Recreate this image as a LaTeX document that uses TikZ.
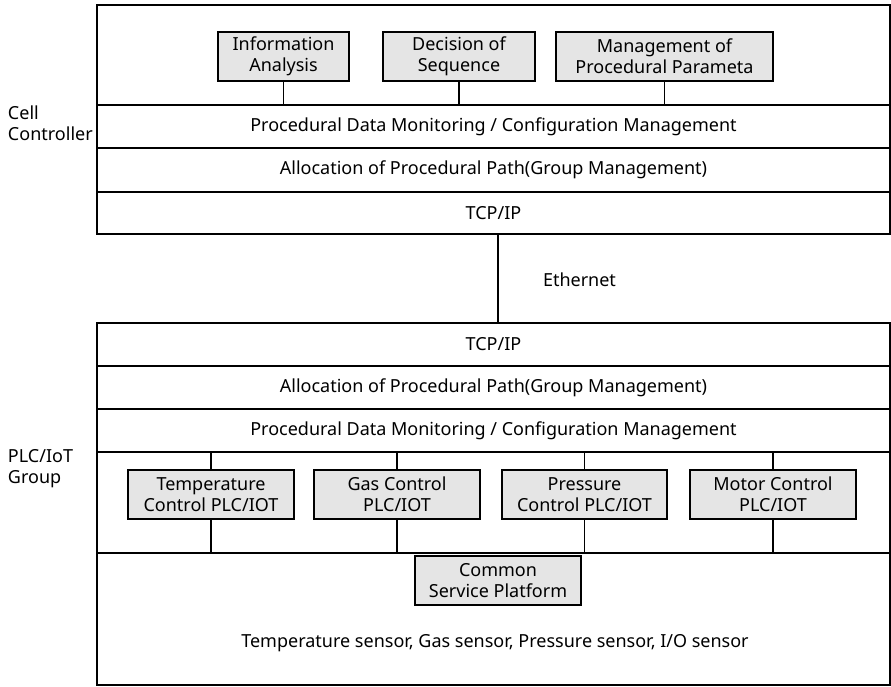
\documentclass[tikz,border=0pt]{standalone}
\usepackage{fontspec}
\setmainfont{Noto Sans}
\begin{document}
\begin{tikzpicture}[x=1pt,y=-1pt,
  every node/.style={inner sep=0pt,outer sep=0pt,font=\fontsize{18}{21}\selectfont},
  frame/.style={draw,line width=1.6pt,minimum width=793pt,anchor=north west},
  gbox/.style={draw,line width=1.4pt,fill=black!10,align=center,anchor=north west},
  conn/.style={line width=1.6pt},
  lbl/.style={align=left,anchor=north west}]
\useasboundingbox (0,0) rectangle (891,686);
% Cell controller
\node[frame,minimum height=100pt] (top) at (97,5) {};
\node[frame,minimum height=43pt] (pdm1) at (97,105) {Procedural Data Monitoring / Configuration Management};
\node[frame,minimum height=44pt] (alc1) at (97,148) {Allocation of Procedural Path(Group Management)};
\node[frame,minimum height=42pt] (tcp1) at (97,192) {TCP/IP};
\node[gbox,minimum width=131pt,minimum height=49pt] (ia) at (218,32) {Information\\Analysis};
\node[gbox,minimum width=152pt,minimum height=49pt] (ds) at (383,32) {Decision of\\Sequence};
\node[gbox,minimum width=217pt,minimum height=49pt] (mp) at (556,32) {Management of\\Procedural Parameta};
\draw[conn] (ia.south) -- (ia.south |- top.south);
\draw[conn] (ds.south) -- (ds.south |- top.south);
\draw[conn] (mp.south) -- (mp.south |- top.south);
\node[lbl] (cc) at (8,106) {Cell\\Controller};
% PLC/IoT group
\node[frame,minimum height=43pt] (tcp2) at (97,323) {TCP/IP};
\node[frame,minimum height=43pt] (alc2) at (97,366) {Allocation of Procedural Path(Group Management)};
\node[frame,minimum height=43pt] (pdm2) at (97,409) {Procedural Data Monitoring / Configuration Management};
\node[frame,minimum height=101pt] (plc) at (97,452) {};
\node[frame,minimum height=132pt] (sens) at (97,553) {};
\coordinate (eth) at (498,234);
\draw[conn] (eth) -- (eth |- tcp2.north);
\node[anchor=west] (ethl) at (543,280) {Ethernet};
\node[gbox,minimum width=166pt,minimum height=49pt] (tc) at (128,470) {Temperature\\Control PLC/IOT};
\node[gbox,minimum width=166pt,minimum height=49pt] (gc) at (314,470) {Gas Control\\PLC/IOT};
\node[gbox,minimum width=165pt,minimum height=49pt] (pc) at (502,470) {Pressure\\Control PLC/IOT};
\node[gbox,minimum width=166pt,minimum height=49pt] (mc) at (690,470) {Motor Control\\PLC/IOT};
\foreach \b in {tc,gc,pc,mc}{
  \draw[conn] (\b.north) -- (\b.north |- plc.north);
  \draw[conn] (\b.south) -- (\b.south |- plc.south);
}
\node[gbox,minimum width=166pt,minimum height=49pt] (csp) at (415,556) {Common\\Service Platform};
\node (sl) at (495,643) {Temperature sensor, Gas sensor, Pressure sensor, I/O sensor};
\node[lbl] (pg) at (8,449) {PLC/IoT\\Group};
\end{tikzpicture}
\end{document}
